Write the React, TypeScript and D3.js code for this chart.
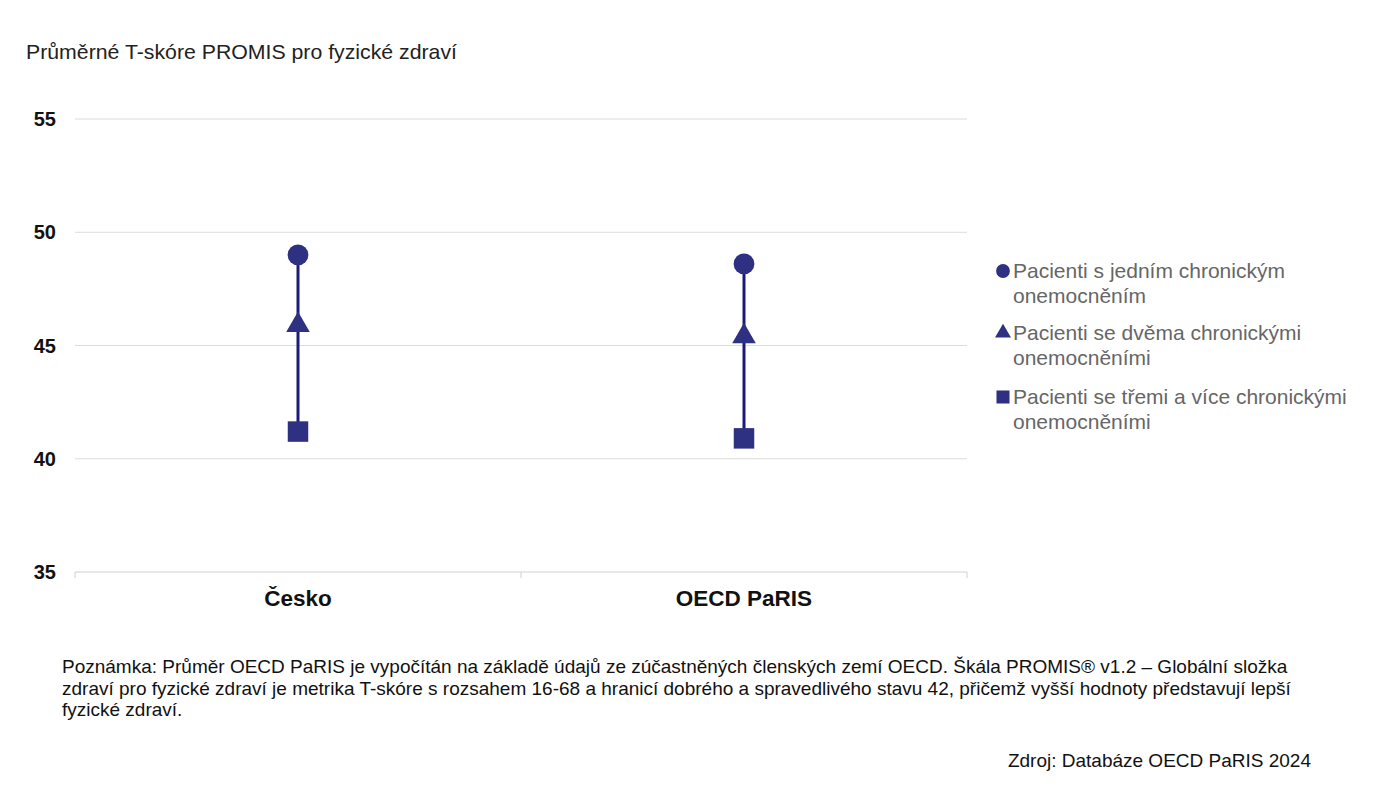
import React from "react";
import * as d3 from "d3";

const categories = ["Česko", "OECD PaRIS"];
const oneCondition = [49.0, 48.6];
const twoConditions = [45.9, 45.4];
const threePlusConditions = [41.2, 40.9];
const yTicks = [35, 40, 45, 50, 55];
const legendLabels = [
  ["Pacienti s jedním chronickým", "onemocněním"],
  ["Pacienti se dvěma chronickými", "onemocněními"],
  ["Pacienti se třemi a více chronickými", "onemocněními"],
];
const title = "Průměrné T-skóre PROMIS pro fyzické zdraví";
const noteLines = [
  "Poznámka: Průměr OECD PaRIS je vypočítán na základě údajů ze zúčastněných členských zemí OECD. Škála PROMIS® v1.2 – Globální složka",
  "zdraví pro fyzické zdraví je metrika T-skóre s rozsahem 16-68 a hranicí dobrého a spravedlivého stavu 42, přičemž vyšší hodnoty představují lepší",
  "fyzické zdraví.",
];
const source = "Zdroj: Databáze OECD PaRIS 2024";

const W = 1385;
const H = 800;
const plotLeft = 75;
const plotRight = 967;
const plotTop = 119;
const plotBottom = 572;
const markerColor = "#2E3081";
const lineColor = "#1B1B7C";
const sans = "'Liberation Sans', Arial, sans-serif";

export default function App() {
  const x = d3.scaleBand<string>().domain(categories).range([plotLeft, plotRight]);
  const y = d3.scaleLinear().domain([35, 55]).range([plotBottom, plotTop]);
  const tri = d3.symbol().type(d3.symbolTriangle).size(240)();
  const circ = d3.symbol().type(d3.symbolCircle).size(340)();
  const sq = d3.symbol().type(d3.symbolSquare).size(420)();
  const triS = d3.symbol().type(d3.symbolTriangle).size(110)();
  const circS = d3.symbol().type(d3.symbolCircle).size(150)();
  const sqS = d3.symbol().type(d3.symbolSquare).size(170)();
  const legendSyms = [circS, triS, sqS];
  const legendY = [271, 333, 397];

  return (
    <svg width={W} height={H} style={{ position: "absolute", left: 0, top: 0, background: "#fff" }}>
      <text x={26} y={59} fontFamily={sans} fontSize={21} fill="#222" textLength={431} lengthAdjust="spacingAndGlyphs">{title}</text>
      {yTicks.map((t) => (
        <g key={t}>
          <line x1={plotLeft} x2={plotRight} y1={y(t)} y2={y(t)} stroke={t === 35 ? "#d0d0d0" : "#dcdcdc"} strokeWidth={1} />
          <text x={56} y={y(t)} dy="0.35em" textAnchor="end" fontFamily={sans} fontWeight="bold" fontSize={20} fill="#111">{t}</text>
        </g>
      ))}
      {[plotLeft, (plotLeft + plotRight) / 2, plotRight].map((xx, i) => (
        <line key={i} x1={xx} x2={xx} y1={plotBottom} y2={plotBottom + 6} stroke="#d0d0d0" />
      ))}
      {categories.map((c) => (
        <text key={c} x={x(c)! + x.bandwidth() / 2} y={606} textAnchor="middle" fontFamily={sans} fontWeight="bold" fontSize={22.5} fill="#111">{c}</text>
      ))}
      {categories.map((c, i) => {
        const cx = x(c)! + x.bandwidth() / 2;
        return (
          <g key={c}>
            <line x1={cx} x2={cx} y1={y(oneCondition[i])} y2={y(threePlusConditions[i])} stroke={lineColor} strokeWidth={3} />
            <path d={circ!} transform={`translate(${cx},${y(oneCondition[i])})`} fill={markerColor} />
            <path d={tri!} transform={`translate(${cx},${y(twoConditions[i])})`} fill={markerColor} />
            <path d={sq!} transform={`translate(${cx},${y(threePlusConditions[i])})`} fill={markerColor} />
          </g>
        );
      })}
      {legendLabels.map((lines, i) => (
        <g key={i}>
          <path d={legendSyms[i]!} transform={`translate(1003,${legendY[i]})`} fill={markerColor} />
          {lines.map((l, j) => (
            <text key={j} x={1013} y={legendY[i] + j * 25} dy="0.35em" fontFamily={sans} fontSize={21} fill="#666">{l}</text>
          ))}
        </g>
      ))}
      {noteLines.map((l, i) => (
        <text key={i} x={62} y={673 + i * 21.5} fontFamily={sans} fontSize={19} fill="#111">{l}</text>
      ))}
      <text x={1311} y={767} textAnchor="end" fontFamily={sans} fontSize={19} fill="#111">{source}</text>
    </svg>
  );
}
